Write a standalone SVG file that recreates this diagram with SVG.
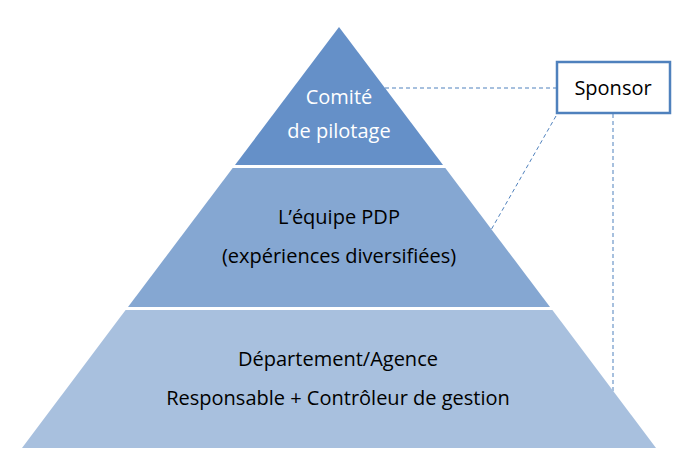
<svg xmlns="http://www.w3.org/2000/svg" width="696" height="455" viewBox="0 0 696 455">
<style>
text{font-family:"Open Sans","Liberation Sans",sans-serif;font-size:20px;text-anchor:middle}
.w{fill:#fff}.k{fill:#000}
.d{stroke:#4f81bd;stroke-width:1;stroke-dasharray:4,3;fill:none}
</style>
<rect width="696" height="455" fill="#fff"/>
<g id="connectors">
<line class="d" x1="385" y1="88" x2="556" y2="88"/>
<line class="d" x1="556" y1="116" x2="491" y2="230"/>
<line class="d" x1="613" y1="114" x2="613" y2="396"/>
</g>
<g id="bottom">
<polygon points="125.6,310 552.4,310 656,448 22,448" fill="#a8c0de"/>
<text class="k" x="338" y="366">Département/Agence</text>
<text class="k" x="338" y="405">Responsable + Contrôleur de gestion</text>
</g>
<g id="middle">
<polygon points="232.7,168 445.3,168 550,307 128,307" fill="#85a7d2"/>
<text class="k" x="339" y="224">L’équipe PDP</text>
<text class="k" x="339" y="263">(expériences diversifiées)</text>
</g>
<g id="top">
<polygon points="339,27 443,165 235,165" fill="#6590c8"/>
<text class="w" x="339" y="104">Comité</text>
<text class="w" x="339" y="138">de pilotage</text>
</g>
<g id="sponsor">
<rect x="557" y="62" width="113" height="51" fill="#fff" stroke="#4f81bd" stroke-width="2.5"/>
<text class="k" x="613" y="95">Sponsor</text>
</g>
</svg>
